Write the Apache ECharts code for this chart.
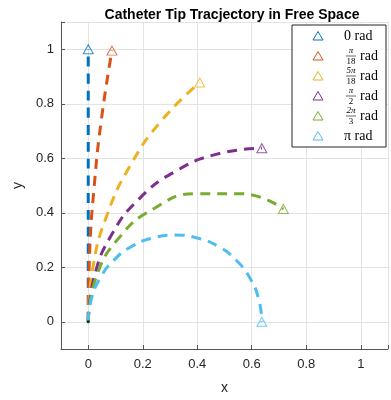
<!DOCTYPE html>
<html>
<head>
<meta charset="utf-8">
<script src="https://cdn.jsdelivr.net/npm/echarts@6/dist/echarts.min.js"></script>
<style>
  html, body { margin: 0; padding: 0; background: #fff; }
  #chart { width: 391px; height: 400px; }
</style>
</head>
<body>
<div id="chart"></div>
<script>
// bending angles (legend labels: numerator / denominator)
const angleNum = ["0", "π", "5π", "π", "2π", "π"];
const angleDen = ["", "18", "18", "2", "3", ""];
const colors = ["#0072BD", "#D95319", "#EDB120", "#7E2F8E", "#77AC30", "#4DBEEE"];

// points, [x, y]
const path0 = [[0, 0], [0, 0.25], [0, 0.5], [0, 0.75], [0, 1]];
const path1 = [[0, 0], [0.005, 0.25], [0.022, 0.499], [0.049, 0.748], [0.087, 0.995]];
const path2 = [[0, 0], [0.017, 0.199], [0.069, 0.392], [0.154, 0.573], [0.268, 0.737], [0.409, 0.878]];
const path3 = [[0, 0], [0.022, 0.165], [0.085, 0.318], [0.186, 0.450], [0.318, 0.551], [0.472, 0.615], [0.637, 0.637]];
const path4 = [[0, 0], [0.029, 0.163], [0.112, 0.307], [0.239, 0.414], [0.395, 0.470], [0.560, 0.470], [0.716, 0.414]];
const path5 = [[0, 0], [0.011, 0.082], [0.043, 0.159], [0.093, 0.225], [0.159, 0.276], [0.236, 0.307], [0.318, 0.318],
               [0.401, 0.307], [0.478, 0.276], [0.544, 0.225], [0.594, 0.159], [0.626, 0.082], [0.637, 0]];
const paths = [path0, path1, path2, path3, path4, path5];

const xTicks = [0, 0.2, 0.4, 0.6, 0.8, 1];
const yTicks = [0, 0.2, 0.4, 0.6, 0.8, 1];

const chart = echarts.init(document.getElementById("chart"));

const axisText = { color: "#262626", fontFamily: "Liberation Sans, Arial", fontSize: 13 };
const onTick = (ticks) => (v) => ticks.some((t) => Math.abs(t - v) < 1e-6) ? String(+v.toFixed(1)) : "";

const series = [];
paths.forEach((p, i) => {
  series.push({
    type: "line",
    data: p,
    smooth: true,
    showSymbol: false,
    lineStyle: { color: colors[i], width: 3, type: [10, 7] },
    z: 2,
  });
  series.push({
    type: "scatter",
    data: [p[p.length - 1]],
    symbol: "triangle",
    symbolSize: [10, 9],
    itemStyle: { color: "rgba(255,255,255,0)", borderColor: colors[i], borderWidth: 1 },
    z: 3,
  });
});
series.push({
  type: "scatter",
  data: [[0, 0]],
  symbolSize: 3,
  itemStyle: { color: "#000" },
  z: 4,
});

// legend drawn as graphics so the fractions can be stacked
const legendX = 292, legendY = 25, rowH = 20;
const legendItems = [
  { type: "rect", shape: { x: legendX, y: legendY, width: 94, height: 122 },
    style: { fill: "#fff", stroke: "#262626", lineWidth: 1 }, z: 10 },
];
angleNum.forEach((num, i) => {
  const cy = legendY + 11 + rowH * i;
  const tx = 318;
  legendItems.push({
    type: "polygon",
    shape: { points: [[tx, cy - 4.5], [tx - 5, cy + 4], [tx + 5, cy + 4]] },
    style: { fill: "none", stroke: colors[i], lineWidth: 1 },
    z: 11,
  });
  const serif = "Liberation Serif, DejaVu Serif, serif";
  if (angleDen[i] === "") {
    legendItems.push({
      type: "text", x: 344, y: cy,
      style: { text: num + " rad", font: "14px " + serif, fill: "#000", verticalAlign: "middle" },
      z: 11,
    });
  } else {
    const fx = 351;
    legendItems.push(
      { type: "text", x: fx, y: cy - 1, style: { text: num, font: "italic 9px " + serif, fill: "#000", align: "center", verticalAlign: "bottom" }, z: 11 },
      { type: "line", shape: { x1: fx - 5, y1: cy, x2: fx + 5, y2: cy }, style: { stroke: "#000", lineWidth: 0.6 }, z: 11 },
      { type: "text", x: fx, y: cy + 1, style: { text: angleDen[i], font: "9px " + serif, fill: "#000", align: "center", verticalAlign: "top" }, z: 11 },
      { type: "text", x: fx + 9, y: cy, style: { text: "rad", font: "14px " + serif, fill: "#000", verticalAlign: "middle" }, z: 11 }
    );
  }
});

const option = {
  animation: false,
  backgroundColor: "#fff",
  title: {
    text: "Catheter Tip Tracjectory in Free Space",
    left: 227, top: 3, textAlign: "center",
    textStyle: { fontFamily: "Liberation Sans, Arial", fontWeight: "bold", fontSize: 14, color: "#000" },
  },
  grid: { left: 61, right: -3, top: 22, bottom: 46 },
  xAxis: {
    type: "value", min: -0.1, max: 1.1,
    name: "x", nameLocation: "middle", nameGap: 32,
    nameTextStyle: { ...axisText, fontSize: 14 },
    axisLine: { show: true, onZero: false, lineStyle: { color: "#555", width: 1 } },
    axisTick: { show: true, inside: true, length: 4, lineStyle: { color: "#555" } },
    axisLabel: { ...axisText, margin: 9, formatter: onTick(xTicks) },
    splitLine: { show: true, lineStyle: { color: "#e3e3e3", width: 1 } },
  },
  yAxis: {
    type: "value", min: -0.1, max: 1.1,
    name: "y", nameLocation: "middle", nameGap: 30,
    nameTextStyle: { ...axisText, fontSize: 14 },
    axisLine: { show: true, onZero: false, lineStyle: { color: "#555", width: 1 } },
    axisTick: { show: true, inside: true, length: 4, lineStyle: { color: "#555" } },
    axisLabel: { ...axisText, margin: 7, formatter: onTick(yTicks) },
    splitLine: { show: true, lineStyle: { color: "#e3e3e3", width: 1 } },
  },
  series: series,
  graphic: legendItems,
};

chart.setOption(option);
</script>
</body>
</html>
